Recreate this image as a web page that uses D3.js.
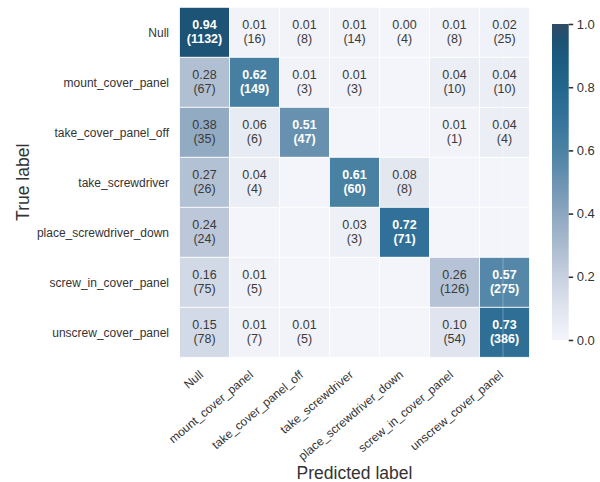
<!DOCTYPE html>
<html>
<head>
<meta charset="utf-8">
<script src="https://cdn.jsdelivr.net/npm/d3@7"></script>
<style>
  html, body { margin: 0; padding: 0; background: #fff; }
  svg { display: block; font-family: "Liberation Sans", Arial, Helvetica, sans-serif; }
</style>
</head>
<body>
<svg id="chart" width="600" height="482"></svg>
<script>
// Activity classes (rows = true, columns = predicted)
const classes = [
  "Null",
  "mount_cover_panel",
  "take_cover_panel_off",
  "take_screwdriver",
  "place_screwdriver_down",
  "screw_in_cover_panel",
  "unscrew_cover_panel"
];

// Row-normalised rates
const rates = [
  [0.94, 0.01, 0.01, 0.01, 0.00, 0.01, 0.02],
  [0.28, 0.62, 0.01, 0.01, 0.00, 0.04, 0.04],
  [0.38, 0.06, 0.51, 0.00, 0.00, 0.01, 0.04],
  [0.27, 0.04, 0.00, 0.61, 0.08, 0.00, 0.00],
  [0.24, 0.00, 0.00, 0.03, 0.72, 0.00, 0.00],
  [0.16, 0.01, 0.00, 0.00, 0.00, 0.26, 0.57],
  [0.15, 0.01, 0.01, 0.00, 0.00, 0.10, 0.73]
];

// Raw sample counts
const counts = [
  [1132, 16,  8, 14,  4,   8,  25],
  [  67, 149, 3,  3,  0,  10,  10],
  [  35,  6, 47,  0,  0,   1,   4],
  [  26,  4,  0, 60,  8,   0,   0],
  [  24,  0,  0,  3, 71,   0,   0],
  [  75,  5,  0,  0,  0, 126, 275],
  [  78,  7,  5,  0,  0,  54, 386]
];

const colorbarTicks = [0.0, 0.2, 0.4, 0.6, 0.8, 1.0];

// Colour ramp stops (value -> colour)
const rampDomain = [0.0, 0.1, 0.2, 0.3, 0.4, 0.5, 0.6, 0.7, 0.8, 0.9, 0.95, 1.0];
const rampColors = ["#f3f5fa", "#dfe4ee", "#c7d0e0", "#abbbcf", "#8da6c0", "#6b93b1",
                    "#4b82a4", "#34739b", "#23668b", "#1b5a7e", "#1e5172", "#314c66"];

const svg = d3.select("#chart");

const grid = { left: 179.5, top: 7.3, size: 350 };

const x = d3.scaleBand().domain(d3.range(classes.length))
  .range([grid.left, grid.left + grid.size]).padding(0);
const y = d3.scaleBand().domain(d3.range(classes.length))
  .range([grid.top, grid.top + grid.size]).padding(0);

const color = d3.scaleLinear().domain(rampDomain).range(rampColors)
  .interpolate(d3.interpolateRgb).clamp(true);

const cells = [];
rates.forEach((row, i) => row.forEach((v, j) => {
  cells.push({ i, j, v, n: counts[i][j] });
}));

const cellG = svg.append("g");
cellG.selectAll("rect").data(cells).join("rect")
  .attr("x", d => x(d.j))
  .attr("y", d => y(d.i))
  .attr("width", x.bandwidth())
  .attr("height", y.bandwidth())
  .attr("fill", d => color(d.v))
  .attr("stroke", "#ffffff")
  .attr("stroke-width", 0.8);

// faint seam down the last column
cellG.append("line")
  .attr("x1", x(6) + x.bandwidth() * 0.47).attr("x2", x(6) + x.bandwidth() * 0.47)
  .attr("y1", grid.top).attr("y2", grid.top + grid.size)
  .attr("stroke", "#ffffff").attr("stroke-opacity", 0.28).attr("stroke-width", 1);

// annotations (only cells with samples): rate on the first line, count below
const ann = svg.append("g")
  .attr("text-anchor", "middle")
  .attr("font-size", 12.5);
const annotated = cells.filter(d => d.n > 0);
const annText = ann.selectAll("text").data(annotated).join("text")
  .attr("fill", d => d.v > 0.45 ? "#ffffff" : "#3a3a3a")
  .attr("font-weight", d => d.v > 0.45 ? 600 : 400);
annText.append("tspan")
  .attr("x", d => x(d.j) + x.bandwidth() / 2)
  .attr("y", d => y(d.i) + y.bandwidth() / 2 - 3.8)
  .text(d => d.v.toFixed(2));
annText.append("tspan")
  .attr("x", d => x(d.j) + x.bandwidth() / 2)
  .attr("y", d => y(d.i) + y.bandwidth() / 2 + 10.6)
  .text(d => `(${d.n})`);

// y tick labels
svg.append("g").selectAll("text").data(classes).join("text")
  .attr("x", grid.left - 10.5)
  .attr("y", (d, i) => y(i) + y.bandwidth() / 2 + 4.4)
  .attr("text-anchor", "end")
  .attr("font-size", 12)
  .attr("fill", "#333333")
  .text(d => d);

// x tick labels, rotated
svg.append("g").selectAll("text").data(classes).join("text")
  .attr("transform", (d, i) => `translate(${x(i) + x.bandwidth() / 2 - 0.5},${grid.top + grid.size + 18.7}) rotate(-40)`)
  .attr("text-anchor", "end")
  .attr("font-size", 12)
  .attr("fill", "#333333")
  .text(d => d);

// axis titles
svg.append("text")
  .attr("transform", `translate(29,${grid.top + grid.size / 2}) rotate(-90)`)
  .attr("text-anchor", "middle")
  .attr("font-size", 17.5)
  .attr("fill", "#333333")
  .text("True label");

svg.append("text")
  .attr("x", grid.left + grid.size / 2)
  .attr("y", 479)
  .attr("text-anchor", "middle")
  .attr("font-size", 17.5)
  .attr("fill", "#333333")
  .text("Predicted label");

// colour bar
const cb = { x: 552, top: 24, bottom: 340, width: 16.7 };
const cbScale = d3.scaleLinear().domain([0, 1]).range([cb.bottom, cb.top]);

const defs = svg.append("defs");
const grad = defs.append("linearGradient")
  .attr("id", "cbGrad").attr("x1", 0).attr("x2", 0).attr("y1", 1).attr("y2", 0);
grad.selectAll("stop").data(rampDomain).join("stop")
  .attr("offset", d => d)
  .attr("stop-color", (d, i) => rampColors[i]);

svg.append("rect")
  .attr("x", cb.x).attr("y", cb.top)
  .attr("width", cb.width).attr("height", cb.bottom - cb.top)
  .attr("fill", "url(#cbGrad)");

const cbAxis = d3.axisRight(cbScale)
  .tickValues(colorbarTicks)
  .tickFormat(d3.format(".1f"))
  .tickSize(4.5)
  .tickPadding(3.5);

const cbG = svg.append("g")
  .attr("transform", `translate(${cb.x + cb.width},0)`)
  .call(cbAxis);
cbG.select(".domain").remove();
cbG.selectAll(".tick line").attr("stroke", "#333333").attr("stroke-width", 1.6);
cbG.selectAll(".tick text")
  .attr("font-family", "Liberation Sans, Arial, sans-serif")
  .attr("font-size", 13)
  .attr("fill", "#333333");
</script>
</body>
</html>
